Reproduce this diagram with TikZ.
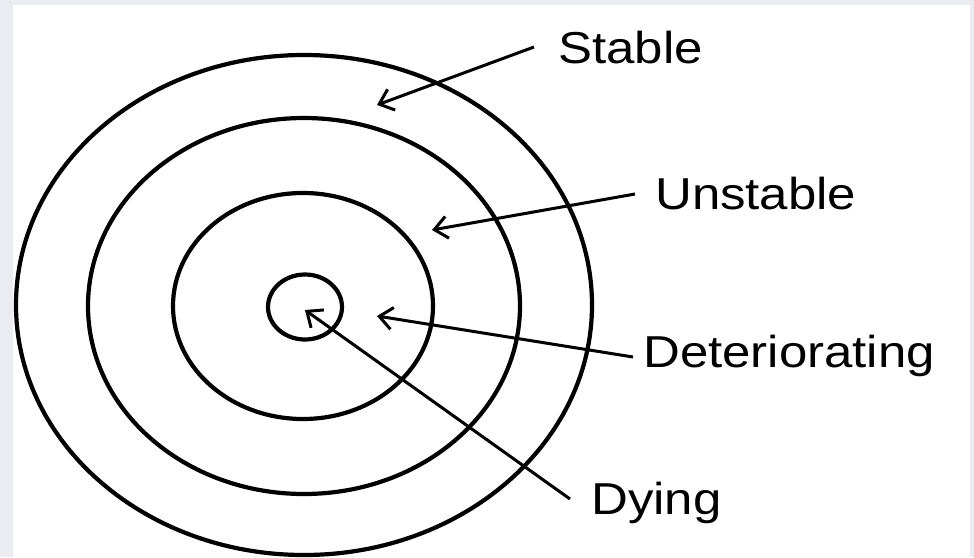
\documentclass[tikz,border=0pt]{standalone}
\usepackage{fontspec}
\setmainfont{Liberation Sans}
\usetikzlibrary{arrows.meta}
\definecolor{bgframe}{RGB}{234,236,242}
\begin{document}
\begin{tikzpicture}[x=1pt,y=-1pt,
  ring/.style={draw=black, line width=4.2pt},
  pointer/.style={draw=black, line width=3pt, -{Straight Barb[length=13pt,width=22pt,line width=3pt]}},
  lbl/.style={anchor=base west, inner sep=0pt, font=\fontsize{44.7}{50}\selectfont}]
\useasboundingbox (0,0) rectangle (974,557);
\fill[bgframe] (0,0) rectangle (974,557);
\fill[white] (13,5) rectangle (970,557);
% rings
\draw[ring] (304,305) ellipse [x radius=288pt, y radius=250pt];
\draw[ring] (304,306) ellipse [x radius=216pt, y radius=188pt];
\draw[ring] (303,306) ellipse [x radius=130pt, y radius=113pt];
\draw[ring] (305,307) ellipse [x radius=37pt, y radius=32.5pt];
% labels
\node[lbl] (stable) at (558,63) {\scalebox{1.14}[1]{Stable}};
\node[lbl] (unstable) at (655,209) {\scalebox{1.14}[1]{Unstable}};
\node[lbl] (deter) at (643,367) {\scalebox{1.14}[1]{Deteriorating}};
\node[lbl] (dying) at (591,514) {\scalebox{1.14}[1]{Dying}};
% connector ends
\coordinate (s0) at (534,47);   \coordinate (s1) at (377,105);
\coordinate (u0) at (635,194);  \coordinate (u1) at (432,230);
\coordinate (d0) at (633,357);  \coordinate (d1) at (377,316);
\coordinate (y0) at (570,499);  \coordinate (y1) at (305,310);
\draw[pointer] (s0) -- (s1);
\draw[pointer] (u0) -- (u1);
\draw[pointer] (d0) -- (d1);
\draw[pointer] (y0) -- (y1);
\end{tikzpicture}
\end{document}
